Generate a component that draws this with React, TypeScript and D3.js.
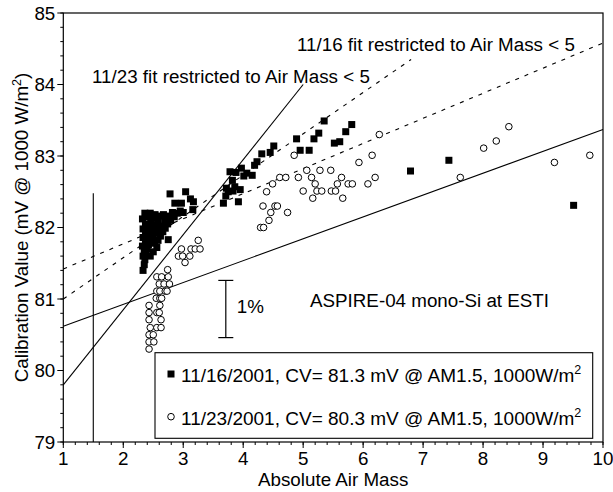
import React from "react";
import * as d3 from "d3";

const W = 613;
const H = 492;
const M = { left: 63.3, top: 13, right: 10, bottom: 50 };

const xTicks = [1, 2, 3, 4, 5, 6, 7, 8, 9, 10];
const yTicks = [79, 80, 81, 82, 83, 84, 85];

// 11/16/2001 measurements (filled squares)
const nov16: [number, number][] = [
  [2.33, 81.4], [2.35, 81.48], [2.36, 81.55], [2.33, 81.6], [2.38, 81.62], [2.35, 81.68], [2.4, 81.7],
  [2.32, 81.74], [2.42, 81.76], [2.37, 81.8], [2.46, 81.8], [2.33, 81.86], [2.42, 81.86], [2.5, 81.86],
  [2.37, 81.92], [2.46, 81.93], [2.54, 81.92], [2.33, 81.98], [2.42, 82.0], [2.5, 81.99], [2.37, 82.05],
  [2.46, 82.07], [2.55, 82.04], [2.32, 82.12], [2.4, 82.15], [2.48, 82.13], [2.36, 82.2], [2.45, 82.2],
  [2.53, 82.18], [2.6, 82.16],
  [2.56, 81.72], [2.5, 81.66], [2.45, 81.6], [2.52, 81.78], [2.58, 81.82], [2.62, 81.88], [2.6, 81.95],
  [2.66, 81.94], [2.7, 81.99], [2.64, 82.02], [2.74, 82.05], [2.69, 82.1], [2.79, 82.1], [2.76, 82.16],
  [2.85, 82.15], [2.82, 82.21], [2.9, 82.2], [2.95, 82.23], [3.0, 82.21], [2.75, 81.83], [2.67, 82.18],
  [2.58, 82.1],
  [2.78, 82.47], [3.04, 82.5], [2.86, 82.34], [2.97, 82.34], [3.12, 82.4], [3.17, 82.36], [3.16, 82.25],
  [3.67, 82.34], [3.71, 82.44], [3.72, 82.55], [3.75, 82.5], [3.78, 82.78], [3.82, 82.66], [3.83, 82.51],
  [3.86, 82.57], [3.88, 82.77], [3.92, 82.36], [3.95, 82.53], [3.97, 82.83], [4.01, 82.72], [4.06, 82.76],
  [4.15, 82.73], [4.19, 82.87], [4.23, 82.92], [4.31, 83.03], [4.45, 83.05], [4.51, 83.14], [4.95, 83.08],
  [4.89, 83.24], [5.1, 83.08], [5.18, 83.24], [5.26, 83.32], [5.35, 83.49], [5.52, 83.18], [5.61, 83.2],
  [5.71, 83.34], [5.81, 83.44], [6.79, 82.79], [7.43, 82.94], [9.51, 82.31],
];

// 11/23/2001 measurements (open circles)
const nov23: [number, number][] = [
  [2.43, 80.3], [2.43, 80.4], [2.51, 80.4], [2.43, 80.5], [2.5, 80.5], [2.45, 80.6], [2.56, 80.6],
  [2.63, 80.6], [2.43, 80.71], [2.63, 80.71], [2.43, 80.81], [2.56, 80.81], [2.6, 80.81], [2.43, 80.91],
  [2.61, 80.91], [2.55, 81.01], [2.61, 81.01], [2.64, 81.01], [2.56, 81.11], [2.61, 81.11], [2.7, 81.11],
  [2.73, 81.11], [2.6, 81.21], [2.68, 81.21], [2.77, 81.21], [2.56, 81.31], [2.64, 81.31], [2.75, 81.31],
  [2.74, 81.41],
  [2.92, 81.6], [2.99, 81.6], [3.11, 81.6], [3.03, 81.51], [2.97, 81.7], [3.13, 81.7], [3.2, 81.7],
  [3.28, 81.7], [3.25, 81.82],
  [4.29, 82.0], [4.34, 82.0], [4.43, 82.1], [4.46, 82.21], [4.74, 82.21], [4.33, 82.3], [4.53, 82.3],
  [4.57, 82.3], [4.39, 82.5], [4.49, 82.61], [4.61, 82.7], [4.71, 82.7], [4.92, 82.7], [5.14, 82.7],
  [5.64, 82.7], [6.2, 82.7], [5.0, 82.51], [5.23, 82.51], [5.31, 82.51], [5.47, 82.51], [5.54, 82.51],
  [5.16, 82.41], [5.66, 82.41], [5.2, 82.61], [5.57, 82.61], [5.75, 82.61], [5.82, 82.61], [6.08, 82.61],
  [5.06, 82.8], [5.28, 82.8], [5.46, 82.8], [4.85, 83.01], [6.15, 83.01], [5.93, 82.91], [6.27, 83.3],
  [7.62, 82.7], [8.01, 83.11], [8.22, 83.21], [8.43, 83.41], [9.19, 82.91], [9.78, 83.01],
];

// fit lines: [x1, y1, x2, y2]
const fitSolid: [number, number, number, number][] = [
  [1, 79.8, 5, 84.0],
  [1, 80.62, 10, 83.37],
];
const fitDashed: [number, number, number, number][] = [
  [1, 81.0, 6.8, 84.35],
  [1, 81.42, 10, 84.58],
];
const amLine: [number, number, number, number] = [1.5, 79, 1.5, 82.48];
const onePercent: [number, number, number] = [3.71, 80.46, 81.26];

const legendLabels = [
  "11/16/2001, CV= 81.3 mV @ AM1.5, 1000W/m",
  "11/23/2001, CV= 80.3 mV @ AM1.5, 1000W/m",
];

const FONT = "'Liberation Sans', Arial, Helvetica, sans-serif";
const FS = 18.8;

export default function App() {
  const x = d3.scaleLinear().domain([1, 10]).range([M.left, W - M.right]);
  const y = d3.scaleLinear().domain([79, 85]).range([H - M.bottom, M.top]);
  const x0 = x(1), x1 = x(10), y0 = y(79), y1 = y(85);

  const xMinor = d3.range(1, 10.001, 0.2);
  const yMinor = d3.range(79, 85.001, 0.2);
  const sq = 7;

  return (
    <svg
      width={W}
      height={H}
      style={{ position: "absolute", left: 0, top: 0, background: "#fff" }}
      fontFamily={FONT}
    >
      {/* frame */}
      <rect x={x0} y={y1} width={x1 - x0} height={y0 - y1} fill="none" stroke="#000" strokeWidth={1.2} />

      {/* ticks */}
      {xMinor.map((v, i) => (
        <line key={"xm" + i} x1={x(v)} x2={x(v)} y1={y0} y2={y0 + 3} stroke="#000" />
      ))}
      {xTicks.map((v) => (
        <g key={"xt" + v}>
          <line x1={x(v)} x2={x(v)} y1={y0} y2={y0 + 6} stroke="#000" />
          <text x={x(v)} y={y0 + 23} fontSize={FS} textAnchor="middle">{v}</text>
        </g>
      ))}
      {yMinor.map((v, i) => (
        <line key={"ym" + i} x1={x0 - 3} x2={x0} y1={y(v)} y2={y(v)} stroke="#000" />
      ))}
      {yTicks.map((v) => (
        <g key={"yt" + v}>
          <line x1={x0 - 6} x2={x0} y1={y(v)} y2={y(v)} stroke="#000" />
          <text x={x0 - 8} y={y(v) + 6.5} fontSize={FS} textAnchor="end">{v}</text>
        </g>
      ))}

      {/* axis titles */}
      <text x={(x0 + x1) / 2} y={486} fontSize={FS} textAnchor="middle">Absolute Air Mass</text>
      <text transform={`translate(28,${(y0 + y1) / 2}) rotate(-90)`} fontSize={FS} textAnchor="middle">
        Calibration Value (mV @ 1000 W/m<tspan fontSize={12.5} dy={-7}>2</tspan><tspan dy={7}>)</tspan>
      </text>

      {/* vertical AM1.5 line */}
      <line x1={x(amLine[0])} x2={x(amLine[2])} y1={y(amLine[1])} y2={y(amLine[3])} stroke="#000" strokeWidth={1.1} />

      {/* fits */}
      {fitSolid.map((f, i) => (
        <line key={"fs" + i} x1={x(f[0])} y1={y(f[1])} x2={x(f[2])} y2={y(f[3])} stroke="#000" strokeWidth={1.1} />
      ))}
      {fitDashed.map((f, i) => (
        <line key={"fd" + i} x1={x(f[0])} y1={y(f[1])} x2={x(f[2])} y2={y(f[3])} stroke="#000" strokeWidth={1.1} strokeDasharray="4,6" />
      ))}

      {/* data */}
      {nov23.map((d, i) => (
        <circle key={"c" + i} cx={x(d[0])} cy={y(d[1])} r={3.3} fill="#fff" stroke="#000" strokeWidth={1} />
      ))}
      {nov16.map((d, i) => (
        <rect key={"s" + i} x={x(d[0]) - sq / 2} y={y(d[1]) - sq / 2} width={sq} height={sq} fill="#000" />
      ))}

      {/* 1% bar */}
      <line x1={x(onePercent[0])} x2={x(onePercent[0])} y1={y(onePercent[1])} y2={y(onePercent[2])} stroke="#000" strokeWidth={1.2} />
      <line x1={x(onePercent[0]) - 7.5} x2={x(onePercent[0]) + 7.5} y1={y(onePercent[1])} y2={y(onePercent[1])} stroke="#000" strokeWidth={1.2} />
      <line x1={x(onePercent[0]) - 7.5} x2={x(onePercent[0]) + 7.5} y1={y(onePercent[2])} y2={y(onePercent[2])} stroke="#000" strokeWidth={1.2} />
      <text x={x(onePercent[0]) + 11} y={313} fontSize={FS}>1%</text>

      {/* annotations */}
      <text x={92} y={83} fontSize={FS}>11/23 fit restricted to Air Mass &lt; 5</text>
      <text x={297} y={51} fontSize={FS}>11/16 fit restricted to Air Mass &lt; 5</text>
      <text x={310} y={307} fontSize={FS}>ASPIRE-04 mono-Si at ESTI</text>

      {/* legend */}
      <rect x={155} y={352.7} width={437.7} height={85.6} fill="#fff" stroke="#000" strokeWidth={1.1} />
      <rect x={171 - sq / 2} y={374 - sq / 2} width={sq} height={sq} fill="#000" />
      <circle cx={171} cy={416.7} r={3.3} fill="#fff" stroke="#000" />
      {legendLabels.map((t, i) => (
        <text key={"lg" + i} x={181} y={381.5 + i * 43.3} fontSize={19}>
          {t}<tspan fontSize={12.5} dy={-8}>2</tspan>
        </text>
      ))}
    </svg>
  );
}
